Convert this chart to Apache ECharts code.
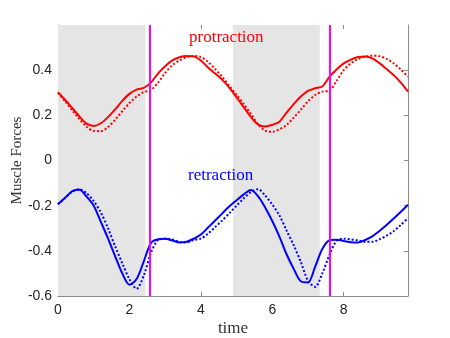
<!DOCTYPE html>
<html>
<head>
<meta charset="utf-8">
<script src="https://cdn.jsdelivr.net/npm/echarts@6/dist/echarts.min.js"></script>
<style>
  html, body { margin: 0; padding: 0; background: #fff; }
  #main { width: 450px; height: 338px; }
</style>
</head>
<body>
<div id="main"></div>
<script>
// sample times
var times = [0, 0.2, 0.4, 0.6, 0.8, 1.0, 1.2, 1.4, 1.6, 1.8,
             2.0, 2.2, 2.4, 2.6, 2.8, 3.0, 3.2, 3.4, 3.6, 3.8,
             4.0, 4.2, 4.4, 4.6, 4.8, 5.0, 5.2, 5.4, 5.6, 5.8,
             6.0, 6.2, 6.4, 6.6, 6.8, 7.0, 7.2, 7.4, 7.6, 7.8,
             8.0, 8.2, 8.4, 8.6, 8.8, 9.0, 9.2, 9.4, 9.6, 9.8];

// protraction, solid and dotted
var protSolid = [0.302, 0.268, 0.232, 0.195, 0.163, 0.153, 0.165, 0.192, 0.226, 0.264,
                 0.295, 0.314, 0.322, 0.345, 0.385, 0.417, 0.443, 0.457, 0.463, 0.461,
                 0.443, 0.412, 0.385, 0.357, 0.322, 0.280, 0.236, 0.193, 0.160, 0.151,
                 0.158, 0.172, 0.212, 0.250, 0.283, 0.308, 0.320, 0.328, 0.370, 0.403,
                 0.430, 0.447, 0.458, 0.460, 0.452, 0.431, 0.405, 0.378, 0.345, 0.305];
var protDotted = [0.300, 0.262, 0.222, 0.183, 0.150, 0.131, 0.130, 0.148, 0.180, 0.218,
                  0.254, 0.283, 0.303, 0.312, 0.345, 0.388, 0.422, 0.443, 0.457, 0.463,
                  0.458, 0.437, 0.405, 0.370, 0.330, 0.291, 0.250, 0.207, 0.160, 0.132,
                  0.127, 0.138, 0.157, 0.190, 0.225, 0.262, 0.290, 0.305, 0.309, 0.352,
                  0.400, 0.430, 0.449, 0.460, 0.464, 0.462, 0.450, 0.430, 0.403, 0.370];

// retraction, solid and dotted
var retrSolid = [-0.194, -0.165, -0.136, -0.130, -0.160, -0.200, -0.272, -0.345, -0.424, -0.500,
                 -0.550, -0.525, -0.448, -0.366, -0.349, -0.347, -0.354, -0.363, -0.360, -0.346,
                 -0.328, -0.297, -0.266, -0.234, -0.203, -0.176, -0.150, -0.131, -0.158, -0.208,
                 -0.268, -0.337, -0.415, -0.480, -0.535, -0.540, -0.470, -0.392, -0.353, -0.351,
                 -0.356, -0.362, -0.363, -0.352, -0.336, -0.312, -0.286, -0.257, -0.227, -0.196];
var retrDotted = [-0.194, -0.166, -0.138, -0.127, -0.145, -0.180, -0.230, -0.300, -0.380, -0.455,
                  -0.525, -0.568, -0.510, -0.410, -0.352, -0.346, -0.350, -0.360, -0.363, -0.352,
                  -0.346, -0.324, -0.295, -0.265, -0.233, -0.200, -0.168, -0.140, -0.127, -0.155,
                  -0.195, -0.243, -0.310, -0.375, -0.450, -0.532, -0.560, -0.500, -0.418, -0.356,
                  -0.346, -0.349, -0.354, -0.360, -0.360, -0.349, -0.333, -0.313, -0.285, -0.255];

// grey phases and magenta events
var phaseStart = [0, 4.9];
var phaseEnd = [2.45, 7.33];
var events = [2.57, 7.62];

var xTicks = [0, 2, 4, 6, 8];
var yTicks = [-0.6, -0.4, -0.2, 0, 0.2, 0.4];

function pairs(vals) {
  return times.map(function (t, i) { return [t, vals[i]]; });
}

function yFmt(v) {
  var r = Math.round(v * 10) / 10;
  return r === 0 ? '0' : r.toFixed(1);
}

var axisGrey = '#8c8c8c';
var labelColor = '#262626';

var myChart = echarts.init(document.getElementById('main'));
var option = {
  backgroundColor: '#ffffff',
  animation: false,
  grid: { left: 58, right: 42, top: 25, bottom: 42, outerBoundsMode: 'none', containLabel: false },
  xAxis: [{
    type: 'value', min: 0, max: 9.8,
    name: 'time', nameLocation: 'middle', nameGap: 24, nameMoveOverlap: false,
    nameTextStyle: { fontFamily: 'Liberation Serif', fontSize: 17, color: '#333' },
    axisLine: { show: true, onZero: false, lineStyle: { color: axisGrey, width: 1 } },
    axisTick: { inside: true, length: 4, customValues: xTicks, lineStyle: { color: axisGrey } },
    axisLabel: {
      margin: 7, color: labelColor, fontSize: 14, fontFamily: 'Liberation Sans',
      customValues: xTicks
    },
    splitLine: { show: false }
  }, {
    type: 'value', position: 'top', min: 0, max: 9.8,
    axisLine: { show: false, onZero: false },
    axisTick: { inside: true, length: 4, customValues: xTicks, lineStyle: { color: axisGrey } },
    axisLabel: { show: false },
    splitLine: { show: false }
  }],
  yAxis: [{
    type: 'value', min: -0.6, max: 0.6,
    name: 'Muscle Forces', nameLocation: 'middle', nameGap: 33, nameRotate: 90, nameMoveOverlap: false,
    nameTextStyle: { fontFamily: 'Liberation Serif', fontSize: 15, color: '#333' },
    axisLine: { show: true, onZero: false, lineStyle: { color: axisGrey, width: 1 } },
    axisTick: { inside: true, length: 4, customValues: yTicks, lineStyle: { color: axisGrey } },
    axisLabel: {
      margin: 6, color: labelColor, fontSize: 14, fontFamily: 'Liberation Sans',
      customValues: yTicks, formatter: yFmt
    },
    splitLine: { show: false }
  }, {
    type: 'value', position: 'right', min: -0.6, max: 0.6,
    axisLine: { show: true, onZero: false, lineStyle: { color: axisGrey, width: 1 } },
    axisTick: { inside: true, length: 4, customValues: yTicks, lineStyle: { color: axisGrey } },
    axisLabel: { show: false },
    splitLine: { show: false }
  }],
  series: [
    {
      name: 'phases', type: 'line', data: [], z: 1,
      markArea: {
        silent: true,
        itemStyle: { color: '#e5e5e5', opacity: 1 },
        data: phaseStart.map(function (s, i) { return [{ xAxis: s }, { xAxis: phaseEnd[i] }]; })
      }
    },
    {
      name: 'protraction', type: 'line', data: pairs(protSolid), showSymbol: false, smooth: 0.3, z: 3,
      lineStyle: { color: '#ff0000', width: 2 }
    },
    {
      name: 'protraction model', type: 'line', data: pairs(protDotted), showSymbol: false, smooth: 0.3, z: 3,
      lineStyle: { color: '#ff0000', width: 2, type: 'dotted' }
    },
    {
      name: 'retraction', type: 'line', data: pairs(retrSolid), showSymbol: false, smooth: 0.3, z: 3,
      lineStyle: { color: '#0000ff', width: 2 }
    },
    {
      name: 'retraction model', type: 'line', data: pairs(retrDotted), showSymbol: false, smooth: 0.3, z: 3,
      lineStyle: { color: '#0000ff', width: 2, type: 'dotted' }
    },
    {
      name: 'events', type: 'line', data: [], z: 5,
      markLine: {
        silent: true,
        symbol: ['none', 'none'],
        label: { show: false },
        lineStyle: { color: '#ff00ff', width: 2, type: 'solid' },
        data: events.map(function (e) { return { xAxis: e }; })
      }
    }
  ],
  graphic: [
    {
      type: 'text', left: 189, top: 29, z: 10,
      style: { text: 'protraction', fill: '#ff0000', font: '17px "Liberation Serif"' }
    },
    {
      type: 'text', left: 188, top: 167, z: 10,
      style: { text: 'retraction', fill: '#0000ff', font: '17px "Liberation Serif"' }
    }
  ]
};
myChart.setOption(option);
</script>
</body>
</html>
